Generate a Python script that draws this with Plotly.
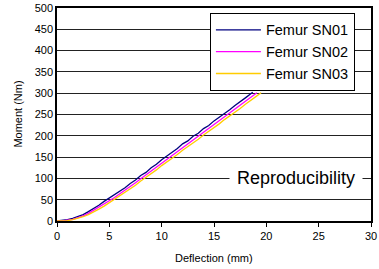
import plotly.graph_objects as go

sn01_x = [0, 0.5, 1, 1.5, 2, 2.5, 3, 3.5, 4, 4.5, 5, 5.5, 6, 6.5, 7, 7.5, 8, 8.5, 9, 9.5, 10, 10.5, 11, 11.5, 12, 12.5, 13, 13.5, 14, 14.5, 15, 15.5, 16, 16.5, 17, 17.5, 18, 18.7]
sn01_y = [0, 1, 3, 6, 10, 15, 22, 29, 37, 46, 54, 61, 71, 78, 88, 96, 107, 114, 125, 133, 144, 152, 162, 170, 181, 188, 199, 206, 217, 224, 235, 243, 253, 261, 271, 279, 289, 302]

sn02_x = [0, 0.5, 1, 1.5, 2, 2.5, 3, 3.5, 4, 4.5, 5, 5.5, 6, 6.5, 7, 7.5, 8, 8.5, 9, 9.5, 10, 10.5, 11, 11.5, 12, 12.5, 13, 13.5, 14, 14.5, 15, 15.5, 16, 16.5, 17, 17.5, 18, 18.5, 19.1]
sn02_y = [0, 0, 2, 4, 8, 12, 18, 25, 32, 40, 47, 55, 64, 72, 81, 90, 99, 108, 117, 126, 135, 145, 154, 163, 172, 181, 190, 199, 208, 217, 226, 235, 244, 253, 262, 271, 280, 289, 301]

sn03_x = [0, 0.5, 1, 1.5, 2, 2.5, 3, 3.5, 4, 4.5, 5, 5.5, 6, 6.5, 7, 7.5, 8, 8.5, 9, 9.5, 10, 10.5, 11, 11.5, 12, 12.5, 13, 13.5, 14, 14.5, 15, 15.5, 16, 16.5, 17, 17.5, 18, 18.5, 19, 19.5]
sn03_y = [0, 0, 1, 3, 6, 10, 15, 21, 28, 35, 43, 50, 59, 67, 76, 84, 94, 102, 112, 120, 130, 138, 148, 156, 166, 174, 184, 192, 202, 210, 220, 228, 238, 246, 256, 264, 274, 282, 292, 301]

series_names = ["Femur SN01", "Femur SN02", "Femur SN03"]
colors = ["#000080", "#FF00FF", "#FFCC00"]

x_ticks = [0, 5, 10, 15, 20, 25, 30]
y_ticks = [0, 50, 100, 150, 200, 250, 300, 350, 400, 450, 500]

fig = go.Figure()
for name, xs, ys, c in zip(series_names, [sn01_x, sn02_x, sn03_x], [sn01_y, sn02_y, sn03_y], colors):
    fig.add_trace(go.Scatter(x=xs, y=ys, mode="lines", name=name,
                             line=dict(color=c, width=1.3)))

font_family = "Liberation Sans, Arial, sans-serif"

fig.update_layout(
    width=379, height=269,
    margin=dict(l=57, r=8, t=8, b=48),
    paper_bgcolor="white", plot_bgcolor="white",
    font=dict(family=font_family, color="black", size=11),
    showlegend=True,
    legend=dict(x=0.487, y=0.977, xanchor="left", yanchor="top",
                bgcolor="white", bordercolor="black", borderwidth=1,
                font=dict(size=14.5, family=font_family, color="black"),
                itemwidth=45, tracegroupgap=0),
    xaxis=dict(range=[0, 30], tickvals=x_ticks, ticks="outside", ticklen=4,
               tickcolor="black", showgrid=False, zeroline=False,
               showline=True, linecolor="black", linewidth=1.5, mirror=True,
               automargin=False, tickfont=dict(size=11)),
    yaxis=dict(range=[0, 500], tickvals=y_ticks, ticks="", showgrid=True,
               gridcolor="#222222", gridwidth=1, zeroline=False,
               showline=True, linecolor="black", linewidth=1.5, mirror=True,
               automargin=False, tickfont=dict(size=11)),
    annotations=[
        dict(x=22.87, y=100, xref="x", yref="y", text="Reproducibility",
             showarrow=False, bgcolor="white", borderpad=7,
             font=dict(size=18, family=font_family, color="black")),
        dict(x=0.5, y=-0.174, xref="paper", yref="paper", text="Deflection (mm)",
             showarrow=False, xanchor="center", yanchor="middle",
             font=dict(size=11, family=font_family, color="black")),
        dict(x=-0.127, y=0.5, xref="paper", yref="paper", text="Moment (Nm)",
             showarrow=False, textangle=-90, xanchor="center", yanchor="middle",
             font=dict(size=11, family=font_family, color="black")),
    ],
)

fig.write_html("out.html", post_script="document.body.style.margin='0';",
               config={"displayModeBar": False})
